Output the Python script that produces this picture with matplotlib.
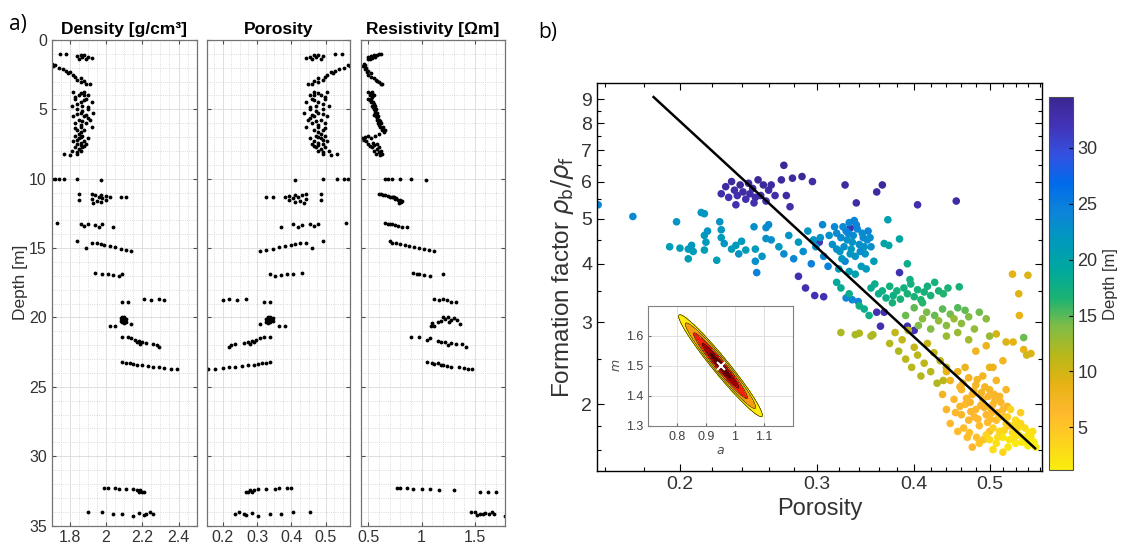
import numpy as np
import matplotlib.pyplot as plt
from matplotlib.colors import LinearSegmentedColormap
from matplotlib.ticker import MultipleLocator, NullFormatter

plt.rcParams['font.family'] = ['Liberation Sans', 'DejaVu Sans']
plt.rcParams['mathtext.fontset'] = 'dejavusans'

# --- a) well logs: one sample per row, grouped by depth interval ---
depth = [1.0, 1.0, 1.05, 1.1, 1.15, 1.2, 1.25, 1.3, 1.35, 1.4,
         1.7, 1.8, 1.9, 2.0, 2.1, 2.2, 2.3, 2.4, 2.5,
         2.65, 2.75, 2.85, 2.95, 3.05, 3.15, 3.2,
         3.75, 3.75, 4.0, 4.0, 4.25, 4.25, 4.5, 4.5, 4.75, 4.75, 5.0, 5.0, 5.25, 5.25,
         5.5, 5.5, 5.75, 5.75, 6.0, 6.0, 6.25, 6.25, 6.5, 6.5, 6.9, 6.9, 7.1, 7.1,
         7.3, 7.3, 7.5, 7.5, 7.75, 7.75, 8.0, 8.0, 8.25, 8.25,
         3.85, 4.1, 4.35, 4.6, 4.85, 5.1, 5.35, 5.6, 5.85, 6.1, 6.35, 6.6,
         7.0, 7.2, 7.4, 7.6, 7.85, 8.1, 8.3, 3.95, 5.4, 6.8, 7.65,
         10.0, 10.0, 10.02, 10.03, 10.05, 10.1,
         11.1, 11.1, 11.15, 11.2, 11.25, 11.3, 11.3, 11.32, 11.35, 11.4, 11.45, 11.5,
         11.55, 11.6, 11.7, 11.75,
         13.2, 13.25, 13.3, 13.3, 13.35, 13.4, 13.45, 13.5,
         14.5, 14.6, 14.65, 14.7, 14.75, 14.85, 14.95, 15.0, 15.05, 15.15, 15.2,
         16.8, 16.85, 16.9, 16.9, 16.95, 17.0,
         18.7, 18.72, 18.7, 18.75, 18.9, 18.9,
         19.95, 20.0, 20.05, 20.1, 20.15, 20.2, 20.25, 20.3, 20.35, 20.4, 20.5, 20.6, 20.6,
         21.4, 21.4, 21.45, 21.6, 21.7, 21.75, 21.8, 21.85, 21.9, 21.95, 22.0, 22.1,
         23.2, 23.25, 23.3, 23.35, 23.4, 23.45, 23.5, 23.55, 23.6, 23.65, 23.7, 23.72,
         32.3, 32.3, 32.32, 32.35, 32.38, 32.4, 32.42, 32.45, 32.55, 32.6, 32.6,
         34.0, 34.0, 34.15, 34.2, 34.1, 34.15, 34.05, 34.2, 34.25, 34.3]

density = [1.745, 1.78, 1.86, 1.88, 1.84, 1.90, 1.87, 1.92, 1.89, 1.85,
           1.70, 1.72, 1.71, 1.74, 1.76, 1.78, 1.80, 1.79, 1.82,
           1.83, 1.86, 1.84, 1.88, 1.86, 1.89, 1.91,
           1.82, 1.88, 1.85, 1.90, 1.83, 1.89, 1.86, 1.92, 1.81, 1.87, 1.84, 1.90, 1.86, 1.93,
           1.82, 1.88, 1.85, 1.91, 1.83, 1.89, 1.86, 1.92, 1.84, 1.88, 1.83, 1.87, 1.85, 1.90,
           1.82, 1.88, 1.84, 1.89, 1.83, 1.87, 1.81, 1.86, 1.77, 1.84,
           1.86, 1.83, 1.88, 1.84, 1.90, 1.87, 1.84, 1.90, 1.87, 1.86, 1.83, 1.86,
           1.86, 1.84, 1.86, 1.86, 1.85, 1.84, 1.80, 1.88, 1.89, 1.85, 1.88,
           1.70, 1.72, 1.74, 1.77, 1.84, 1.97,
           1.85, 1.92, 1.97, 1.94, 2.00, 1.96, 2.08, 2.11, 2.02, 1.98, 1.92, 1.85,
           2.00, 1.95, 1.97, 1.93,
           1.73, 1.86, 1.90, 1.98, 1.94, 1.88, 1.96, 2.04,
           1.84, 1.92, 1.95, 1.97, 1.99, 2.02, 2.05, 1.89, 2.08, 2.11, 2.14,
           1.94, 1.98, 2.01, 2.09, 2.04, 2.07,
           2.21, 2.25, 2.29, 2.32, 2.09, 2.12,
           2.09, 2.10, 2.08, 2.11, 2.09, 2.10, 2.08, 2.11, 2.09, 2.10, 2.14, 2.02, 2.05,
           2.09, 2.12, 2.14, 2.16, 2.18, 2.20, 2.17, 2.22, 2.19, 2.26, 2.28, 2.29,
           2.09, 2.11, 2.13, 2.15, 2.17, 2.20, 2.23, 2.26, 2.29, 2.32, 2.36, 2.39,
           1.99, 2.01, 2.05, 2.07, 2.11, 2.15, 2.17, 2.19, 2.20, 2.21, 2.18,
           1.90, 1.98, 2.04, 2.09, 2.18, 2.22, 2.24, 2.26, 2.21, 2.15]

porosity = [0.548, 0.527, 0.479, 0.467, 0.491, 0.455, 0.473, 0.442, 0.461, 0.485,
            0.576, 0.564, 0.570, 0.552, 0.539, 0.527, 0.515, 0.521, 0.503,
            0.497, 0.479, 0.491, 0.467, 0.479, 0.461, 0.448,
            0.503, 0.467, 0.485, 0.455, 0.497, 0.461, 0.479, 0.442, 0.509, 0.473, 0.491, 0.455, 0.479, 0.436,
            0.503, 0.467, 0.485, 0.448, 0.497, 0.461, 0.479, 0.442, 0.491, 0.467, 0.497, 0.473, 0.485, 0.455,
            0.503, 0.467, 0.491, 0.461, 0.497, 0.473, 0.509, 0.479, 0.533, 0.491,
            0.479, 0.497, 0.467, 0.491, 0.455, 0.473, 0.491, 0.455, 0.473, 0.479, 0.497, 0.479,
            0.479, 0.491, 0.479, 0.479, 0.485, 0.491, 0.515, 0.467, 0.461, 0.485, 0.467,
            0.576, 0.564, 0.552, 0.533, 0.491, 0.412,
            0.485, 0.442, 0.412, 0.430, 0.394, 0.418, 0.345, 0.327, 0.382, 0.406, 0.442, 0.485,
            0.394, 0.424, 0.412, 0.436,
            0.558, 0.479, 0.455, 0.406, 0.430, 0.467, 0.418, 0.370,
            0.491, 0.442, 0.424, 0.412, 0.400, 0.382, 0.364, 0.461, 0.345, 0.327, 0.309,
            0.430, 0.406, 0.388, 0.339, 0.370, 0.352,
            0.267, 0.242, 0.218, 0.200, 0.339, 0.321,
            0.339, 0.333, 0.345, 0.327, 0.339, 0.333, 0.345, 0.327, 0.339, 0.333, 0.309, 0.382, 0.364,
            0.339, 0.321, 0.309, 0.297, 0.285, 0.273, 0.291, 0.261, 0.279, 0.236, 0.224, 0.218,
            0.339, 0.327, 0.315, 0.303, 0.291, 0.273, 0.255, 0.236, 0.218, 0.200, 0.176, 0.158,
            0.400, 0.388, 0.364, 0.352, 0.327, 0.303, 0.291, 0.279, 0.273, 0.267, 0.285,
            0.455, 0.406, 0.370, 0.339, 0.285, 0.261, 0.248, 0.236, 0.267, 0.303]

resistivity = [0.60, 0.62, 0.55, 0.58, 0.52, 0.50, 0.56, 0.53, 0.51, 0.50,
               0.46, 0.47, 0.45, 0.48, 0.47, 0.50, 0.49, 0.52, 0.50,
               0.52, 0.55, 0.57, 0.58, 0.60, 0.62, 0.63,
               0.50, 0.53, 0.51, 0.55, 0.52, 0.50, 0.54, 0.52, 0.53, 0.56, 0.55, 0.57, 0.56, 0.58,
               0.57, 0.59, 0.58, 0.60, 0.59, 0.62, 0.61, 0.64, 0.63, 0.66, 0.50, 0.56, 0.44, 0.52,
               0.42, 0.48, 0.50, 0.58, 0.53, 0.60, 0.55, 0.62, 0.57, 0.63,
               0.52, 0.53, 0.51, 0.55, 0.54, 0.56, 0.57, 0.58, 0.61, 0.60, 0.63, 0.65,
               0.47, 0.46, 0.54, 0.55, 0.58, 0.60, 0.61, 0.54, 0.55, 0.60, 0.51,
               0.66, 0.68, 0.72, 0.80, 0.90, 1.04,
               0.62, 0.60, 0.64, 0.66, 0.68, 0.70, 0.72, 0.74, 0.73, 0.76, 0.75, 0.78,
               0.80, 0.82, 0.81, 0.79,
               0.66, 0.68, 0.72, 0.70, 0.75, 0.78, 0.82, 0.86,
               0.70, 0.72, 0.76, 0.80, 0.84, 0.88, 0.93, 0.98, 1.02, 1.07, 1.12,
               0.92, 0.96, 0.98, 1.20, 1.02, 1.08,
               1.12, 1.16, 1.20, 1.24, 1.28, 1.32,
               1.20, 1.25, 1.30, 1.22, 1.28, 1.33, 1.18, 1.26, 1.15, 1.10, 1.36, 1.12, 1.09,
               0.90, 0.98, 1.08, 1.05, 1.15, 1.22, 1.18, 1.28, 1.32, 1.38, 1.25, 1.42,
               1.05, 1.10, 1.15, 1.12, 1.20, 1.18, 1.24, 1.28, 1.35, 1.40, 1.44, 1.47,
               0.77, 0.80, 0.86, 0.92, 1.00, 1.08, 1.16, 1.30, 1.55, 1.62, 1.70,
               1.46, 1.50, 1.55, 1.58, 1.60, 1.63, 1.66, 1.68, 1.52, 1.78]

# --- b) formation factor vs porosity, coloured by depth ---
phi_b = ([0.226, 0.229, 0.231, 0.233, 0.235, 0.237, 0.239, 0.241, 0.243, 0.245,
          0.246, 0.248, 0.250, 0.252, 0.254, 0.256, 0.258, 0.260, 0.236, 0.249]
         + [0.262, 0.265, 0.272, 0.270, 0.279, 0.287, 0.296, 0.274, 0.277, 0.326,
            0.337, 0.358, 0.364, 0.404, 0.453]
         + [0.284, 0.290, 0.298, 0.306, 0.302, 0.331, 0.383, 0.358, 0.366, 0.362, 0.392, 0.400]
         + [0.157, 0.174, 0.194, 0.198, 0.200, 0.205, 0.205, 0.207, 0.208, 0.213, 0.215,
            0.215, 0.217, 0.215, 0.216, 0.223, 0.225, 0.226, 0.226, 0.228, 0.233, 0.236,
            0.238, 0.240, 0.243, 0.249, 0.250, 0.250, 0.255, 0.258, 0.260, 0.258, 0.251]
         + [0.262, 0.268, 0.272, 0.276, 0.280, 0.284, 0.288, 0.292, 0.295, 0.299, 0.303,
            0.306, 0.310, 0.314, 0.318, 0.321, 0.324, 0.326, 0.328, 0.330, 0.332, 0.334,
            0.336, 0.338, 0.340, 0.342, 0.344, 0.346, 0.349, 0.352, 0.355, 0.330, 0.320,
            0.336, 0.327, 0.333, 0.339, 0.322, 0.325, 0.329, 0.333, 0.337, 0.341, 0.345,
            0.348, 0.318, 0.327, 0.311, 0.316, 0.323, 0.331, 0.335, 0.343, 0.347, 0.351,
            0.305, 0.297]
         + [0.370, 0.366, 0.371, 0.383, 0.392]
         + [0.352, 0.356, 0.360, 0.364, 0.368, 0.372, 0.376, 0.380, 0.384, 0.388, 0.392,
            0.396, 0.400, 0.404, 0.408, 0.412, 0.416, 0.420, 0.425, 0.430, 0.436, 0.442,
            0.457, 0.410, 0.375, 0.345, 0.350, 0.322, 0.330, 0.340, 0.318, 0.395]
         + [0.390, 0.400, 0.405, 0.410, 0.415, 0.420, 0.425, 0.430, 0.435, 0.440, 0.445,
            0.450, 0.455, 0.460, 0.465, 0.470, 0.478, 0.485, 0.495, 0.455, 0.470, 0.500, 0.440]
         + [0.322, 0.336, 0.340, 0.352, 0.354]
         + [0.372, 0.378, 0.382, 0.386, 0.390, 0.393, 0.397, 0.400, 0.404, 0.408, 0.412,
            0.416, 0.420, 0.424, 0.428, 0.432, 0.436, 0.440]
         + [0.535, 0.560, 0.545, 0.546, 0.510, 0.525, 0.536, 0.553, 0.565, 0.558, 0.495,
            0.480, 0.505, 0.520, 0.553]
         + [0.435, 0.440, 0.445, 0.450, 0.455, 0.460, 0.460, 0.465, 0.470, 0.470, 0.475,
            0.480, 0.480, 0.485, 0.490, 0.490, 0.495, 0.500, 0.500, 0.505, 0.510, 0.510,
            0.515, 0.520, 0.525, 0.530, 0.468, 0.475, 0.485, 0.455, 0.445, 0.440, 0.500,
            0.465, 0.458, 0.472, 0.478, 0.488, 0.492, 0.498, 0.503, 0.508, 0.462, 0.482,
            0.452, 0.458, 0.463, 0.467, 0.473, 0.477, 0.483, 0.487, 0.493, 0.497, 0.502,
            0.507, 0.512, 0.517, 0.522, 0.527, 0.471, 0.481, 0.491, 0.501]
         + [0.495, 0.500, 0.505, 0.510, 0.515, 0.520, 0.525, 0.530, 0.535, 0.540, 0.545,
            0.550, 0.555, 0.560, 0.565, 0.570, 0.568, 0.540, 0.548, 0.532, 0.515, 0.505,
            0.520, 0.548, 0.512, 0.522, 0.528, 0.538, 0.543, 0.552, 0.558, 0.562, 0.573,
            0.527, 0.537, 0.557])

ff_b = ([5.65, 5.85, 5.55, 6.0, 5.75, 5.6, 5.9, 5.7, 5.5, 5.95,
         5.65, 5.8, 5.55, 6.05, 5.6, 5.9, 5.45, 5.75, 5.35, 5.4]
        + [5.9, 5.6, 6.5, 6.05, 6.1, 6.15, 6.0, 5.6, 5.3, 5.9,
           5.4, 5.7, 5.9, 5.35, 5.45]
        + [3.76, 3.55, 3.42, 3.40, 4.45, 4.77, 3.83, 3.15, 3.15, 2.94, 2.94, 2.88]
        + [5.35, 5.05, 4.35, 4.92, 4.32, 4.30, 4.10, 4.38, 4.25, 5.15, 5.12,
           4.60, 4.70, 4.28, 4.45, 4.07, 4.92, 4.73, 4.55, 4.42, 4.30, 4.38,
           4.20, 4.47, 4.28, 4.80, 4.30, 4.05, 4.15, 4.78, 4.85, 4.53, 3.83]
        + [4.50, 4.35, 4.20, 4.60, 4.10, 4.45, 4.25, 4.70, 4.00, 4.35, 4.55,
           4.15, 3.95, 4.40, 4.65, 4.25, 4.80, 4.05, 4.50, 4.90, 4.30, 4.60,
           4.15, 4.75, 4.40, 3.95, 4.55, 4.20, 4.70, 4.35, 4.05, 3.85, 3.90,
           3.80, 3.38, 3.35, 3.32, 4.55, 4.35, 4.65, 4.45, 4.85, 4.25, 4.35,
           4.50, 4.30, 4.70, 4.60, 4.80, 4.10, 4.20, 4.95, 4.65, 3.90, 4.55,
           4.85, 4.50]
        + [4.97, 4.42, 4.38, 4.52, 4.00]
        + [3.55, 3.62, 3.45, 3.50, 3.38, 3.58, 3.42, 3.50, 3.36, 3.55, 3.45,
           3.62, 3.40, 3.52, 3.35, 3.48, 3.58, 3.42, 3.65, 3.50, 3.45, 3.55,
           3.57, 3.30, 3.30, 3.20, 3.10, 3.55, 3.45, 3.25, 3.65, 3.70]
        + [3.10, 3.22, 2.95, 3.05, 3.15, 2.90, 3.10, 3.02, 3.20, 2.95, 3.12,
           3.05, 3.22, 2.98, 3.18, 3.08, 2.90, 3.15, 3.05, 2.85, 2.75, 2.80, 2.80]
        + [2.85, 2.82, 2.84, 2.80, 2.82]
        + [2.70, 2.85, 2.60, 2.75, 2.50, 2.88, 2.40, 2.65, 2.55, 2.30, 2.45,
           2.70, 2.35, 2.58, 2.22, 2.48, 2.25, 2.40]
        + [3.80, 3.78, 3.45, 3.10, 2.83, 2.72, 2.72, 2.62, 2.57, 2.55, 2.67,
           2.60, 2.40, 2.48, 2.78]
        + [2.10, 1.95, 2.25, 2.05, 2.35, 1.90, 2.15, 2.00, 2.28, 1.85, 2.10,
           1.95, 2.20, 1.80, 2.05, 2.30, 1.90, 2.15, 1.75, 2.00, 2.25, 1.85,
           2.08, 1.95, 2.15, 1.80, 1.70, 1.62, 1.65, 1.75, 1.82, 2.35, 2.40,
           2.40, 1.98, 2.02, 1.88, 2.12, 1.97, 2.08, 1.92, 2.04, 2.22, 2.26,
           1.92, 2.18, 1.78, 2.06, 1.93, 2.14, 1.86, 1.99, 2.18, 1.83, 1.96,
           2.10, 1.92, 2.02, 1.88, 1.98, 1.74, 1.70, 1.68, 1.86]
        + [1.72, 1.68, 1.78, 1.65, 1.75, 1.70, 1.82, 1.68, 1.74, 1.65, 1.72,
           1.66, 1.78, 1.63, 1.70, 1.66, 1.75, 1.85, 1.92, 1.95, 1.88, 1.60,
           1.58, 1.82, 1.70, 1.76, 1.62, 1.70, 1.78, 1.70, 1.67, 1.74, 1.62,
           1.88, 1.80, 1.70])

depth_b = ([33.0, 33.5, 32.5, 33.8, 33.2, 32.8, 34.0, 33.4, 32.6, 33.7,
            33.1, 33.6, 32.9, 34.2, 33.0, 33.9, 32.4, 33.3, 32.3, 32.7]
           + [33.5, 33.0, 34.3, 33.8, 33.6, 34.0, 33.2, 33.4, 32.9, 33.7,
              33.1, 33.5, 33.9, 32.8, 33.2]
           + [32.3, 32.4, 32.2, 32.3, 32.5, 32.4, 32.3, 32.5, 32.4, 32.3, 32.5, 32.2]
           + [24.0, 23.5, 21.0, 22.5, 21.2, 21.5, 21.0, 21.8, 21.3, 22.0, 22.2,
              21.6, 22.4, 21.1, 21.7, 20.8, 22.6, 22.0, 21.4, 21.9, 21.2, 21.6,
              22.3, 21.5, 21.0, 22.8, 21.4, 23.0, 22.1, 23.2, 23.5, 22.7, 24.5]
           + [23.0, 22.0, 23.5, 22.5, 24.0, 21.5, 23.0, 22.0, 24.5, 23.0, 22.5,
              23.8, 24.5, 22.8, 23.5, 22.0, 23.3, 24.2, 22.6, 23.8, 21.8, 23.1,
              22.4, 24.0, 22.9, 21.5, 23.6, 22.2, 24.3, 23.0, 21.2, 20.8, 21.0,
              20.5, 24.0, 23.6, 24.2, 23.4, 22.7, 23.9, 22.3, 24.1, 23.2, 22.6,
              23.7, 22.9, 24.4, 22.7, 23.6, 21.9, 22.1, 24.2, 23.1, 21.4, 22.8,
              23.7, 22.4]
           + [20.5, 20.0, 19.8, 19.6, 18.0]
           + [18.5, 18.0, 18.2, 17.5, 17.8, 17.2, 17.6, 17.0, 16.8, 17.3, 16.9,
              17.1, 16.7, 17.0, 16.5, 16.9, 17.2, 16.6, 17.0, 16.8, 16.4, 16.7,
              16.9, 16.2, 16.9, 18.0, 17.7, 18.5, 18.0, 17.5, 19.0, 17.4]
           + [14.5, 14.8, 14.0, 13.5, 14.2, 13.8, 14.6, 13.2, 14.9, 13.6, 14.3,
              13.0, 15.2, 13.4, 14.7, 13.9, 13.1, 14.4, 13.6, 12.9, 12.5, 13.0, 12.8]
           + [12.0, 12.2, 11.8, 12.1, 11.9]
           + [11.5, 11.0, 11.8, 10.8, 11.4, 11.2, 11.6, 10.9, 11.3, 11.7, 11.1,
              10.6, 11.5, 11.0, 11.8, 11.2, 11.4, 10.7]
           + [9.0, 9.5, 9.2, 8.8, 9.8, 9.4, 9.0, 8.6, 9.2, 10.0, 8.2,
              7.8, 8.0, 7.5, 14.5]
           + [7.5, 7.0, 7.8, 6.5, 8.2, 6.8, 7.2, 6.2, 7.6, 6.6, 7.0,
              6.4, 7.4, 6.0, 6.8, 7.9, 6.3, 7.1, 5.8, 6.5, 7.3, 6.0,
              6.7, 6.2, 6.9, 5.5, 5.8, 6.5, 5.0, 6.0, 6.3, 8.5, 8.3,
              8.0, 6.9, 7.2, 6.4, 7.5, 6.7, 7.0, 6.1, 6.8, 7.7, 7.4,
              6.6, 7.3, 6.0, 6.9, 6.5, 7.2, 6.2, 6.8, 7.4, 6.1, 6.6,
              7.0, 6.4, 6.9, 6.2, 6.7, 5.6, 5.4, 5.2, 6.0]
           + [3.5, 3.0, 4.0, 2.5, 3.2, 2.0, 3.8, 1.8, 2.6, 1.5, 2.2,
              1.6, 2.8, 1.3, 2.0, 1.4, 2.4, 3.0, 4.2, 3.6, 4.5, 2.8,
              3.4, 3.3, 2.9, 3.4, 1.9, 2.3, 3.1, 1.8, 1.5, 2.2, 1.3,
              4.0, 3.2, 1.7])

# fitted Archie line end points
line_phi = [0.185, 0.572]
line_ff = [9.1, 1.61]

# posterior of Archie parameters (inset)
a_best, m_best = 0.95, 1.50
sd_a, sd_m, corr_am = 0.058, 0.068, -0.97

# flipped parula-like colormap (yellow = shallow, indigo = deep)
parula_r = LinearSegmentedColormap.from_list('parula_r', [
    (0.98, 0.93, 0.05), (0.99, 0.82, 0.12), (1.00, 0.72, 0.18), (0.90, 0.70, 0.08),
    (0.72, 0.72, 0.10), (0.50, 0.74, 0.28), (0.10, 0.70, 0.45), (0.00, 0.66, 0.62),
    (0.00, 0.60, 0.74), (0.05, 0.52, 0.85), (0.00, 0.42, 0.92), (0.20, 0.32, 0.88),
    (0.26, 0.20, 0.72), (0.24, 0.15, 0.58)])

fig = plt.figure(figsize=(11.31, 5.53), dpi=100)

# ---------------- a) logs ----------------
panels = [
    (density, 'Density [g/cm³]', (1.7, 2.5), [1.8, 2.0, 2.2, 2.4], ['1.8', '2', '2.2', '2.4'], 0.05, 0.0457, 0.1282),
    (porosity, 'Porosity', (0.155, 0.571), [0.2, 0.3, 0.4, 0.5], ['0.2', '0.3', '0.4', '0.5'], 0.025, 0.1833, 0.1262),
    (resistivity, 'Resistivity [Ωm]', (0.43, 1.78), [0.5, 1.0, 1.5], ['0.5', '1', '1.5'], 0.1, 0.3192, 0.1269),
]
for i, (vals, title, xl, xt, xtl, xminor, x0, w) in enumerate(panels):
    ax = fig.add_axes([x0, 0.0497, w, 0.878])
    ax.plot(vals, depth, '.', color='k', ms=5.5, mew=0)
    ax.set_xlim(xl)
    ax.set_ylim(35, 0)
    ax.set_xticks(xt, labels=xtl)
    ax.set_yticks(range(0, 36, 5))
    ax.xaxis.set_minor_locator(MultipleLocator(xminor))
    ax.yaxis.set_minor_locator(MultipleLocator(1))
    ax.grid(True, which='major', color='0.87', lw=0.7)
    ax.grid(True, which='minor', color='0.82', lw=0.6, ls=':')
    ax.set_axisbelow(True)
    ax.tick_params(which='major', direction='in', length=3, color='0.3',
                   labelsize=11.5, labelcolor='0.2', top=True, right=True)
    ax.tick_params(which='minor', length=0)
    for sp in ax.spines.values():
        sp.set_color('0.45')
        sp.set_linewidth(0.9)
    ax.set_title(title, fontsize=12.5, fontweight='bold', pad=4)
    if i == 0:
        ax.set_ylabel('Depth [m]', fontsize=12.5, color='0.2', labelpad=1)
    else:
        ax.set_yticklabels([])

# ---------------- b) formation factor ----------------
ax = fig.add_axes([0.5279, 0.1483, 0.3935, 0.7011])
ax.set_xscale('log')
ax.set_yscale('log')
sc = ax.scatter(phi_b, ff_b, c=depth_b, cmap=parula_r, vmin=1.2, vmax=34.5,
                s=30, linewidths=0, zorder=2)
ax.plot(line_phi, line_ff, color='k', lw=1.8, zorder=3)
ax.set_xlim(0.1565, 0.584)
ax.set_ylim(1.44, 9.74)
ax.set_xticks([0.2, 0.3, 0.4, 0.5], labels=['0.2', '0.3', '0.4', '0.5'])
ax.set_xticks([t for t in np.round(np.arange(0.16, 0.59, 0.02), 2)
               if t not in (0.2, 0.3, 0.4, 0.5)], minor=True)
ax.set_yticks(range(2, 10), labels=[str(v) for v in range(2, 10)])
ax.set_yticks([1.6, 1.8, 2.5, 3.5, 4.5, 5.5, 6.5, 7.5, 8.5], minor=True)
ax.xaxis.set_minor_formatter(NullFormatter())
ax.yaxis.set_minor_formatter(NullFormatter())
ax.tick_params(which='both', direction='in', top=True, right=True,
               labelsize=14, labelcolor='0.2', width=0.8)
ax.tick_params(which='major', length=5)
ax.tick_params(which='minor', length=3)
for sp in ax.spines.values():
    sp.set_color('k')
    sp.set_linewidth(1.0)
ax.set_xlabel('Porosity', fontsize=17, color='0.2', labelpad=4)
ax.set_ylabel(r'Formation factor $\rho_\mathrm{b}/\rho_\mathrm{f}$', fontsize=17.5,
              color='0.2', labelpad=4)

cax = fig.add_axes([0.9275, 0.1501, 0.021, 0.674])
cb = fig.colorbar(sc, cax=cax, ticks=[5, 10, 15, 20, 25, 30])
cb.set_label('Depth [m]', fontsize=12, color='0.2')
cb.ax.tick_params(labelsize=13, labelcolor='0.2', direction='in', length=3)
cb.outline.set_edgecolor('0.3')
cb.outline.set_linewidth(0.8)

# inset: posterior of a and m
ins = fig.add_axes([0.5732, 0.2302, 0.1277, 0.217])
ag, mg = np.meshgrid(np.linspace(0.7, 1.2, 500), np.linspace(1.3, 1.7, 500))
za = (ag - a_best) / sd_a
zm = (mg - m_best) / sd_m
r2 = (za ** 2 - 2 * corr_am * za * zm + zm ** 2) / (1 - corr_am ** 2)
levels = [0, 0.36, 1.2, 2.6, 4.4, 6.25]
ins.contourf(ag, mg, r2, levels=levels,
             colors=[(0.35, 0.0, 0.0), (0.62, 0.0, 0.0), (0.95, 0.12, 0.05),
                     (0.99, 0.6, 0.08), (1.0, 0.92, 0.05)], zorder=2)
ins.contour(ag, mg, r2, levels=levels[1:], colors='k', linewidths=0.4, zorder=3)
ins.plot(a_best, m_best, 'x', color='w', ms=6, mew=1.5, zorder=4)
ins.set_xlim(0.7, 1.2)
ins.set_ylim(1.3, 1.7)
ins.set_xticks([0.8, 0.9, 1.0, 1.1], labels=['0.8', '0.9', '1', '1.1'])
ins.set_yticks([1.3, 1.4, 1.5, 1.6], labels=['1.3', '1.4', '1.5', '1.6'])
ins.grid(True, color='0.88', lw=0.7)
ins.set_axisbelow(True)
ins.tick_params(direction='in', length=2, labelsize=9, labelcolor='0.25', color='0.4')
for sp in ins.spines.values():
    sp.set_color('0.5')
    sp.set_linewidth(0.8)
ins.set_xlabel('$a$', fontsize=9, color='0.3', labelpad=2)
ins.set_ylabel('$m$', fontsize=9, color='0.3', labelpad=2)

fig.text(0.008, 0.955, 'a)', fontsize=15, va='center', family=['Open Sans', 'DejaVu Sans'])
fig.text(0.476, 0.942, 'b)', fontsize=15, va='center', family=['Open Sans', 'DejaVu Sans'])

fig.savefig('out.png', dpi=100)
